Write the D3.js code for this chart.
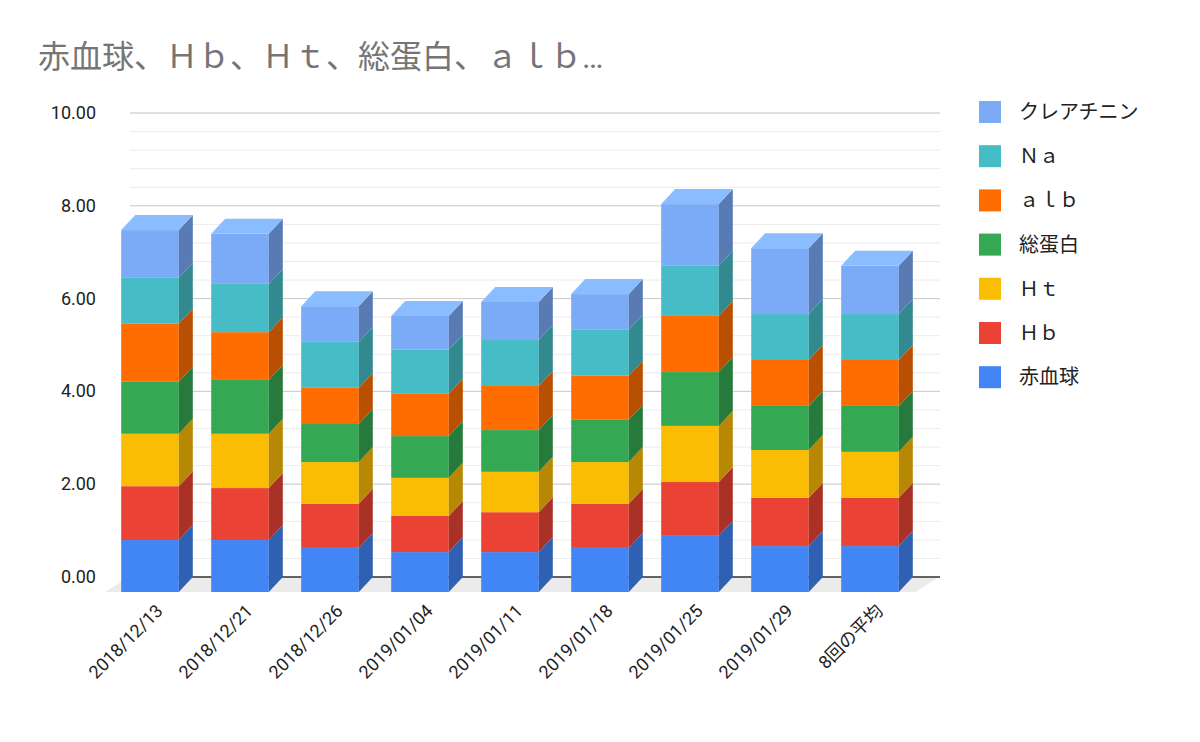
<!DOCTYPE html><html><head><meta charset="utf-8"><script src="https://cdn.jsdelivr.net/npm/d3@7"></script>
<style>body{margin:0;background:#fff}text{font-family:Roboto,"Noto Sans CJK JP",sans-serif}</style></head><body><svg id="c" width="1200" height="742"></svg><script>
const categories=["2018/12/13","2018/12/21","2018/12/26","2019/01/04","2019/01/11","2019/01/18","2019/01/25","2019/01/29","8回の平均"];
const seriesNames=["赤血球","Ｈｂ","Ｈｔ","総蛋白","ａｌｂ","Ｎａ","クレアチニン"];
const seriesColors=["#4285f4","#ea4335","#fbbc04","#34a853","#ff6d01","#46bdc6","#7baaf7"];
const values=[
[1.12,1.12,0.95,0.86,0.86,0.95,1.21,0.99,0.99],
[1.16,1.12,0.95,0.78,0.86,0.95,1.16,1.04,1.04],
[1.13,1.17,0.90,0.82,0.87,0.90,1.21,1.03,0.99],
[1.12,1.16,0.82,0.90,0.90,0.91,1.16,0.95,0.99],
[1.25,1.03,0.78,0.91,0.95,0.95,1.21,0.99,0.99],
[0.99,1.04,0.99,0.95,0.99,0.99,1.08,0.99,0.99],
[1.03,1.08,0.77,0.73,0.82,0.77,1.33,1.42,1.04]];
const yTicks=[0,2,4,6,8,10];
const svg=d3.select("#c");
const DX=14,DY=15;
const y=d3.scaleLinear().domain([0,10]).range([592,128]);
const x=d3.scaleBand().domain(categories).range([105,915]).paddingInner(0.36).paddingOuter(0.18);
svg.append("text").attr("x",38).attr("y",68).attr("font-size",32).attr("fill","#757575").text("赤血球、Ｈｂ、Ｈｔ、総蛋白、ａｌｂ…");
// floor
svg.append("path").attr("d",`M105,${y(0)}L${105+DX+10},${y(0)-DY}L${915+DX+10},${y(0)-DY}L915,${y(0)}Z`).attr("fill","#ebebeb");
// gridlines (back plane)
const g=svg.append("g");
d3.range(0,10.01,0.4).forEach(v=>{g.append("line").attr("x1",130).attr("x2",940).attr("y1",y(v)-DY).attr("y2",y(v)-DY).attr("stroke","#ebebeb")});
yTicks.forEach(v=>{g.append("line").attr("x1",130).attr("x2",940).attr("y1",y(v)-DY).attr("y2",y(v)-DY).attr("stroke",v==0?"#333":"#ccc").attr("stroke-width",v==0?1.5:1);
 svg.append("text").attr("x",96).attr("y",y(v)-DY+6).attr("text-anchor","end").attr("font-size",18).attr("fill","#222").text(v.toFixed(2));});
const stack=categories.map((c,i)=>{let s=0;return values.map(r=>{const a=s;s+=r[i];return [a,s];});});
const bars=svg.append("g");
categories.forEach((c,i)=>{const x0=x(c),w=x.bandwidth();
 stack[i].forEach((seg,k)=>{const col=d3.color(seriesColors[k]);const yt=y(seg[1]),yb=y(seg[0]);
  bars.append("rect").attr("x",x0).attr("y",yt).attr("width",w).attr("height",yb-yt).attr("fill",col);
  bars.append("path").attr("d",`M${x0+w},${yt}L${x0+w+DX},${yt-DY}L${x0+w+DX},${yb-DY}L${x0+w},${yb}Z`).attr("fill",col.darker(0.9));
  if(k==6) bars.append("path").attr("d",`M${x0},${yt}L${x0+DX},${yt-DY}L${x0+w+DX},${yt-DY}L${x0+w},${yt}Z`).attr("fill",col.brighter(0.3));
 });
 const cx=x0+w/2+14;
 svg.append("text").attr("transform",`translate(${cx},${612}) rotate(-45)`).attr("text-anchor","end").attr("font-size",18).attr("fill","#222").text(c);
});
const leg=svg.append("g");
const order=[6,5,4,3,2,1,0];
order.forEach((k,j)=>{const yy=112+j*44.2;
 leg.append("rect").attr("x",979).attr("y",yy-11).attr("width",22).attr("height",22).attr("fill",seriesColors[k]);
 leg.append("text").attr("x",1019).attr("y",yy+7).attr("font-size",20).attr("fill","#222").text(seriesNames[k]);});
</script></body></html>
